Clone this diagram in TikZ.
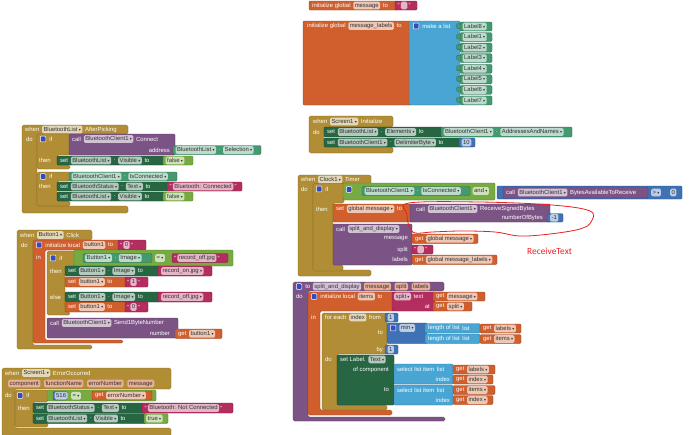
\documentclass[tikz,border=0pt]{standalone}
\usepackage{fontspec}
\setmainfont{Liberation Sans}
\newfontfamily\dvf{DejaVu Sans}
\newfontfamily\crl{Carlito}
\definecolor{EV}{RGB}{177,142,53}
\definecolor{SG}{RGB}{38,102,67}
\definecolor{GG}{RGB}{67,153,112}
\definecolor{LG}{RGB}{119,171,65}
\definecolor{TX}{RGB}{179,45,94}
\definecolor{MB}{RGB}{63,113,181}
\definecolor{LB}{RGB}{73,166,212}
\definecolor{VO}{RGB}{208,95,45}
\definecolor{PP}{RGB}{124,83,133}
\definecolor{RD}{RGB}{235,30,35}
\definecolor{GR}{RGB}{55,75,190}
\newcommand\fs{\fontsize{5.9}{6.8}\selectfont}
\newcommand\dd{\hspace{1.3pt}{\dvf\fontsize{4}{4}\selectfont ▾}\hspace{0.3pt}}
\newcounter{nn}
\tikzset{
 tx/.style={anchor=west, inner sep=0pt, font=\fs, text=white},
 fd/.style={anchor=west, inner xsep=1.5pt, inner ysep=1.1pt, text height=4.3pt, text depth=1.2pt,
   fill=white, fill opacity=0.65, text opacity=1, text=black!80, rounded corners=1.4pt, font=\fs},
 pa/.style={fd, fill=VO!50!white, fill opacity=1},
 gear/.style={anchor=west, minimum size=5.6pt, inner sep=0pt, fill=GR, draw=white, line width=0.5pt, rounded corners=0.8pt}
}
\newcommand\bB[5]{\filldraw[fill=#5, draw=#5!70!black, line width=0.3pt, rounded corners=1.2pt] (#1,#2) rectangle (#3,#4);}
\newcommand\bC[9]{\filldraw[fill=#9, draw=#9!70!black, line width=0.3pt, rounded corners=1.5pt] (#1,#2) -- (#3,#2) -- (#3,#4) -- (#5,#4) -- (#5,#6) -- (#7,#6) -- (#7,#8) -- (#1,#8) -- cycle;}
\newcommand\bT[3]{\stepcounter{nn}\node[tx] (n\arabic{nn}) at (#1,#2) {#3};}
\newcommand\bR[3]{\stepcounter{nn}\node[tx, anchor=east] (n\arabic{nn}) at (#1,#2) {#3};}
\newcommand\adv[1]{\coordinate (rw) at ([xshift=#1]n\arabic{nn}.east);}
\newcommand\rit[1]{\stepcounter{nn}\node[tx] (n\arabic{nn}) at (rw) {#1};\adv{2.3pt}}
\newcommand\rif[1]{\stepcounter{nn}\node[fd] (n\arabic{nn}) at (rw) {#1\dd};\adv{2.3pt}}
\newcommand\rin[1]{\stepcounter{nn}\node[fd] (n\arabic{nn}) at (rw) {#1};\adv{2.3pt}}
\newcommand\rip[1]{\stepcounter{nn}\node[pa] (n\arabic{nn}) at (rw) {#1};\adv{3.3pt}}
\newcommand\rig[1]{\stepcounter{nn}\node[gear] (n\arabic{nn}) at (rw) {};\adv{3pt}}
\newcommand\ris[1]{\stepcounter{nn}\node[tx] (n\arabic{nn}) at (rw) {"};\adv{0.9pt}%
 \stepcounter{nn}\node[fd] (n\arabic{nn}) at (rw) {#1};\adv{0.9pt}%
 \stepcounter{nn}\node[tx] (n\arabic{nn}) at (rw) {"};\adv{2.3pt}}
\newcommand\row[3]{\coordinate (rw) at (#1,#2);\foreach \k/\v in {#3}{\csname ri\k\endcsname{\v}}}
\begin{document}
\begin{tikzpicture}[x=1pt,y=-1pt]
\fill[white] (0,0) rectangle (690,434);
\useasboundingbox (0,0) rectangle (690,434);

% --- initialize global message
\bB{309}{1}{398}{10}{VO}
\row{312}{5.5}{t/initialize global,n/message,t/to}
\bB{395}{1}{417}{10}{TX}
\row{397.5}{5.5}{s/\phantom{0}}

% --- initialize global message_labels
\bB{303}{21}{411}{105}{VO}
\row{307}{26}{t/initialize global,n/message\_labels,t/to}
\bB{409}{21}{460}{105}{LB}
\row{413}{26}{g/,t/make a list}
\foreach \i/\l in {0/Label8,1/Label1,2/Label2,3/Label3,4/Label4,5/Label5,6/Label6,7/Label7}{
  \pgfmathsetmacro\yt{22+10.57*\i}
  \bB{460}{\yt}{492}{\yt+9}{GG}
  \bB{456.5}{\yt+1.5}{461}{\yt+6.5}{GG}
  \row{462.5}{\yt+4.5}{f/\l}
}

% --- Screen1.Initialize
\bC{309}{116}{393}{127}{324}{147}{393}{153}{EV}
\row{313}{121.5}{t/when,f/Screen1,t/Initialize}
\bT{313}{132}{do}
\bB{324}{127}{443}{137}{SG}
\row{327}{132}{t/set,f/BluetoothList,t/.,f/Elements,t/to}
\bB{441}{127}{572}{137}{GG}
\row{443.5}{132}{f/BluetoothClient1,t/.,f/AddressesAndNames}
\bB{324}{138}{462}{147}{SG}
\row{327}{142.5}{t/set,f/BluetoothClient1,t/.,f/DelimiterByte,t/to}
\bB{459}{138}{475}{147}{MB}
\row{461.5}{142.5}{n/10}

% --- BluetoothList.AfterPicking
\bC{22}{125}{128}{134}{37}{206}{128}{213}{EV}
\row{25}{129.5}{t/when,f/BluetoothList,t/AfterPicking}
\bT{26}{139}{do}
\bC{37}{134}{70}{155}{57}{165}{70}{169}{EV}
\row{40}{139}{g/,t/if}
\bB{69}{134}{175}{155}{PP}
\row{72}{139}{t/call,f/BluetoothClient1,t/Connect}
\bR{170}{150}{address}
\bB{173}{145.5}{261}{154.5}{GG}
\row{175.5}{150}{f/BluetoothList,t/.,f/Selection}
\bT{39}{160.5}{then}
\bB{57}{156}{165}{165}{SG}
\row{60}{160.5}{t/set,f/BluetoothList,t/.,f/Visible,t/to}
\bB{163}{156}{193}{165}{LG}
\row{165.5}{160.5}{f/false}
\bC{37}{172}{70}{181}{57}{201}{70}{206}{EV}
\row{40}{176.5}{g/,t/if}
\bB{69}{172}{177}{181}{GG}
\row{71.5}{176.5}{f/BluetoothClient1,t/.,f/IsConnected}
\bT{39}{186.5}{then}
\bB{57}{182}{169}{191}{SG}
\row{60}{186.5}{t/set,f/BluetoothStatus,t/.,f/Text,t/to}
\bB{167}{182}{242}{191}{TX}
\row{169.5}{186.5}{s/Bluetooth: Connected}
\bB{57}{192}{165}{201}{SG}
\row{60}{196.5}{t/set,f/BluetoothList,t/.,f/Visible,t/to}
\bB{163}{192}{193}{201}{LG}
\row{165.5}{196.5}{f/false}

% --- Button1.Click
\bC{17}{230}{92}{240}{33}{345}{92}{349}{EV}
\row{20}{235}{t/when,f/Button1,t/Click}
\bT{21}{245}{do}
\bC{33}{240}{120}{250}{45}{340}{123}{343}{VO}
\row{36}{245}{g/,t/initialize local,n/button1,t/to}
\bB{118}{240}{146}{250}{TX}
\row{120}{245}{s/0}
\bT{36}{257}{in}
\bC{47}{251}{75}{266}{65}{312}{70}{315}{EV}
\row{50}{258}{g/,t/if}
\bB{74}{250}{233}{266}{LG}
\bB{83}{253.5}{152}{262.5}{GG}
\row{85}{258}{f/Button1,t/.,f/Image}
\row{155}{258}{f/=}
\bB{172}{253.5}{228}{262.5}{TX}
\row{174}{258}{s/record\_off.jpg}
\bT{50}{271}{then}
\bB{65}{266}{160}{276}{SG}
\row{68}{271}{t/set,f/Button1,t/.,f/Image,t/to}
\bB{158}{266}{212}{276}{TX}
\row{161}{271}{f/record\_on.jpg}
\bB{65}{277}{127}{287}{VO}
\row{68}{282}{t/set,f/button1,t/to}
\bB{125}{277}{148}{287}{TX}
\row{127}{282}{s/1}
\bT{50}{297}{else}
\bB{65}{292}{160}{302}{SG}
\row{68}{297}{t/set,f/Button1,t/.,f/Image,t/to}
\bB{158}{292}{212}{302}{TX}
\row{161}{297}{f/record\_off.jpg}
\bB{65}{302}{127}{312}{VO}
\row{68}{307}{t/set,f/button1,t/to}
\bB{125}{302}{148}{312}{TX}
\row{127}{307}{s/0}
\bB{47}{318}{178}{338}{PP}
\row{50}{323}{t/call,f/BluetoothClient1,t/Send1ByteNumber}
\bR{170}{333.5}{number}
\bB{175}{329}{222}{338.5}{VO}
\row{178}{333.8}{t/get,f/button1}

% --- Screen1.ErrorOccurred
\bC{2}{368}{171}{389}{15}{428}{171}{436}{EV}
\row{5}{373}{t/when,f/Screen1,t/ErrorOccurred}
\row{8}{383.5}{p/component,p/functionName,p/errorNumber,p/message}
\bT{5}{395.5}{do}
\bC{15}{390}{48}{402}{33}{423}{48}{427}{EV}
\row{17}{395.5}{g/,t/if}
\bB{47}{390}{156}{401}{LG}
\bB{53}{391.5}{67}{400}{MB}
\row{54.5}{395.7}{n/516}
\row{71}{395.7}{f/=}
\bB{92}{391}{152}{400}{VO}
\row{95}{395.5}{t/get,f/errorNumber}
\bT{18}{408}{then}
\bB{33}{403}{144}{413}{SG}
\row{36}{408}{t/set,f/BluetoothStatus,t/.,f/Text,t/to}
\bB{142}{403}{233}{413}{TX}
\row{144.5}{408}{s/Bluetooth: Not Connected}
\bB{33}{413.5}{146}{423.5}{SG}
\row{36}{418.5}{t/set,f/BluetoothList,t/.,f/Visible,t/to}
\bB{144}{413.5}{168}{423.5}{LG}
\row{146}{418.5}{f/true}

% --- Clock1.Timer
\bC{298}{175}{371}{184}{313}{270}{371}{276}{EV}
\row{301}{179.5}{t/when,f/Clock1,t/Timer}
\bT{301}{189}{do}
\bC{313}{183.5}{344}{203}{333}{265}{343}{271}{EV}
\row{316}{189}{g/,t/if}
\bB{343}{183}{495}{200}{LG}
\row{346}{189.5}{g/}
\bB{362}{186.5}{470}{195.5}{GG}
\row{364.5}{191}{f/BluetoothClient1,t/.,f/IsConnected}
\row{472.5}{191}{f/and}
\bB{497}{186}{682}{199}{MB}
\bB{503}{187}{648}{198}{PP}
\row{506}{192.5}{t/call,f/BluetoothClient1,t/BytesAvailableToReceive}
\row{651}{192.5}{f/>}
\row{670}{192.5}{n/0}
\bT{316}{209}{then}
\bB{333}{204}{412}{222}{VO}
\row{336}{209}{t/set,f/global message,t/to}
\bB{410}{204}{550}{222}{PP}
\row{416}{209}{t/call,f/BluetoothClient1,t/ReceiveSignedBytes}
\bR{543}{218}{numberOfBytes}
\bB{547}{213.5}{563}{222}{MB}
\row{550}{217.8}{n/-1}
\bB{333}{224}{412}{265}{PP}
\row{336}{229}{t/call,f/split\_and\_display}
\bR{408}{239}{message}
\bR{408}{249.5}{split}
\bR{408}{259.5}{labels}
\bB{412}{234}{478}{243.5}{VO}
\row{415}{238.8}{t/get,f/global message}
\bB{412}{245}{433}{254}{TX}
\row{414}{249.5}{s/\phantom{0}}
\bB{412}{255}{497}{264.5}{VO}
\row{415}{259.8}{t/get,f/global message\_labels}

% --- red annotation
\draw[RD, line width=0.8pt] plot[smooth cycle, tension=0.6] coordinates {(409,203) (480,202) (552,205) (590,211) (591,222) (580,229) (550,234) (520,236) (495,232) (462,231) (432,232) (415,233) (409,226) (407,214)};
\node[font=\crl\fontsize{9.4}{11}\selectfont, text=RD, inner sep=0pt, anchor=west] (note) at (527,251) {ReceiveText};

% --- procedure split_and_display
\bC{293}{282}{444}{291}{308}{417}{445}{421}{PP}
\row{296}{286.5}{g/,t/to,n/split\_and\_display,p/message,p/split,p/labels}
\bT{296}{296.5}{do}
\bC{308}{292}{394}{311}{320}{410}{392}{415}{VO}
\row{311}{296.5}{g/,t/initialize local,n/items,t/to}
\bB{392}{292}{435}{311}{TX}
\row{394}{296.5}{f/split,t/text}
\bR{430}{306.5}{at}
\bB{433}{292}{485}{301}{VO}
\row{436}{296.5}{t/get,f/message}
\bB{433}{302}{472}{311}{VO}
\row{436}{306.5}{t/get,f/split}
\bT{311}{317}{in}
\bC{322}{313}{387}{354}{337}{405}{387}{410}{EV}
\row{325}{317.5}{t/for each,n/index,t/from}
\bB{385}{313}{398}{322}{MB}
\row{387.5}{317.5}{n/1}
\bR{383}{333}{to}
\bB{387}{323}{427}{343.5}{MB}
\row{390}{328}{g/,f/min}
\bB{425}{323.5}{480}{333}{LB}
\row{428}{328.2}{t/length of list,t/list}
\bB{480}{324}{521}{333}{VO}
\row{483}{328.5}{t/get,f/labels}
\bB{425}{334}{480}{343.5}{LB}
\row{428}{338.7}{t/length of list,t/list}
\bB{480}{334.5}{521}{343.5}{VO}
\row{483}{339}{t/get,f/items}
\bR{383}{349.5}{by}
\bB{385}{345}{398}{354}{MB}
\row{387.5}{349.5}{n/1}
\bT{325}{359}{do}
\bB{337}{355}{394}{405}{SG}
\row{340}{359.5}{t/set Label.,f/Text}
\bR{389}{369.5}{of component}
\bR{389}{390}{to}
\bB{394}{364}{453}{384}{LB}
\row{397}{369}{t/select list item,t/list}
\bR{450}{379.5}{index}
\bB{453}{365}{495}{374}{VO}
\row{456}{369.5}{t/get,f/labels}
\bB{453}{375}{493}{384}{VO}
\row{456}{379.5}{t/get,f/index}
\bB{394}{385}{453}{405}{LB}
\row{397}{390}{t/select list item,t/list}
\bR{450}{400}{index}
\bB{453}{385.5}{495}{394.5}{VO}
\row{456}{390}{t/get,f/items}
\bB{453}{395.5}{493}{404.5}{VO}
\row{456}{400}{t/get,f/index}
\end{tikzpicture}
\end{document}
